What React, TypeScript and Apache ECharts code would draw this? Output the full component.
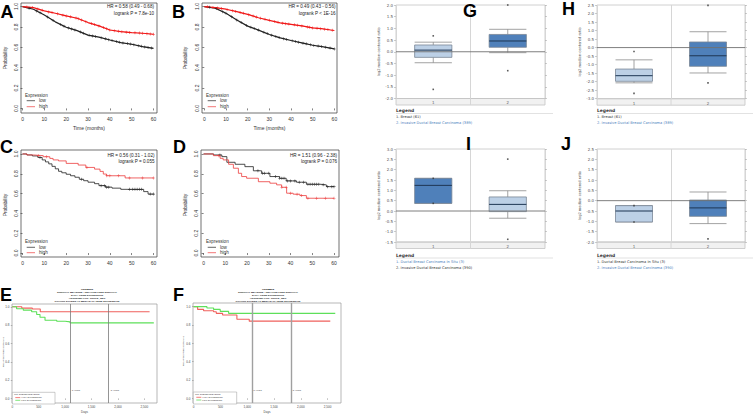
import React, { useEffect, useRef } from 'react';
import * as echarts from 'echarts';

// ================= DATA =================
// Kaplan-Meier panels (A-D)
const KM_X_TICKS = [0, 10, 20, 30, 40, 50, 60];
const KM_Y_TICKS = [0, 0.2, 0.4, 0.6, 0.8, 1.0];
const KM_LEGEND = ['Expression', 'low', 'high'];

const A_TIME = [0, 5, 10, 15, 20, 25, 30, 35, 40, 45, 50, 55, 60];
const A_LOW = [1.0, 0.974, 0.918, 0.85, 0.797, 0.764, 0.72, 0.7, 0.672, 0.646, 0.63, 0.607, 0.59];
const A_HIGH = [1.0, 0.99, 0.957, 0.934, 0.908, 0.885, 0.843, 0.81, 0.77, 0.754, 0.744, 0.738, 0.728];
const A_LOW_CENS = [3, 6.5, 8, 11.5, 14, 17.5, 19, 21, 22.5, 24, 26.5, 28, 30.5, 32, 33.5, 36, 38, 39.5, 41, 43, 44.5, 46, 48, 49.5, 51, 53, 54.5, 56, 57.5, 59];
const A_HIGH_CENS = [2, 4.5, 7, 9, 12, 13.5, 16, 18.5, 20, 22, 24.5, 25.5, 27, 29, 31.5, 33, 35, 37, 38.5, 40, 42, 44, 45.5, 47.5, 49, 51.5, 53.5, 55, 57, 58.5, 60];
const A_STATS = ['HR = 0.58 (0.49 - 0.68)', 'logrank P = 7.8e-10'];

const B_TIME = [0, 5, 10, 15, 20, 25, 30, 35, 40, 45, 50, 55, 60];
const B_LOW = [1.0, 0.985, 0.934, 0.868, 0.808, 0.769, 0.726, 0.693, 0.667, 0.643, 0.62, 0.604, 0.584];
const B_HIGH = [1.0, 0.99, 0.974, 0.95, 0.924, 0.89, 0.865, 0.84, 0.825, 0.81, 0.79, 0.78, 0.765];
const B_LOW_CENS = [2.5, 5.5, 8.5, 10, 12.5, 15, 17, 19.5, 21.5, 23, 25, 27.5, 29, 31, 33, 34.5, 36.5, 38, 40.5, 42, 43.5, 45.5, 47, 49, 50.5, 52.5, 54, 56, 58, 60];
const B_HIGH_CENS = [1.5, 4, 6, 8, 10.5, 13, 14.5, 16.5, 18, 20.5, 22.5, 24, 26, 28, 30, 32.5, 34, 36, 37.5, 39, 41.5, 43, 45, 47.5, 48.5, 50, 52, 53.5, 55.5, 57, 59];
const B_STATS = ['HR = 0.49 (0.43 - 0.56)', 'logrank P < 1E-16'];

const C_LOW_T = [0, 2, 4.5, 7, 9, 10.5, 12, 13.5, 15, 16.5, 18, 20, 22, 24, 26, 28, 30, 33, 35, 38, 41, 45, 55.5, 57.5, 60];
const C_LOW_S = [1.0, 0.99, 0.98, 0.965, 0.94, 0.92, 0.9, 0.875, 0.85, 0.825, 0.81, 0.795, 0.78, 0.765, 0.745, 0.73, 0.715, 0.7, 0.68, 0.665, 0.655, 0.643, 0.62, 0.595, 0.595];
const C_LOW_CENS = [8, 27, 36, 37.5, 38.5, 39.5, 49, 50.5, 51.5, 52.5, 53.5, 54.5, 58.5, 60];
const C_HIGH_T = [0, 2, 5, 9.5, 12.5, 14, 16.5, 20, 25.5, 29, 33, 35.5, 37, 38.5, 47, 60];
const C_HIGH_S = [1.0, 0.99, 0.983, 0.972, 0.955, 0.94, 0.93, 0.905, 0.888, 0.864, 0.847, 0.824, 0.797, 0.78, 0.758, 0.758];
const C_HIGH_CENS = [7.3, 11, 29.5, 38.6, 40, 44, 49, 55, 60];
const C_STATS = ['HR = 0.56 (0.31 - 1.02)', 'logrank P = 0.055'];

const D_LOW_T = [0, 4.6, 8.4, 10.7, 14.5, 19, 22.9, 26.7, 30.5, 35, 38, 42.7, 47.3, 53.4, 56.5, 60];
const D_LOW_S = [1.0, 0.99, 0.973, 0.916, 0.896, 0.872, 0.83, 0.805, 0.772, 0.755, 0.728, 0.715, 0.695, 0.688, 0.67, 0.67];
const D_LOW_CENS = [7.5, 25, 27, 28, 30, 33, 35, 36, 37, 38.5, 40, 42, 44, 46, 48, 49, 50, 51, 52, 53, 55, 57, 59, 60];
const D_HIGH_T = [0, 4.5, 7.6, 9, 11.5, 13.7, 16, 17.5, 19.8, 25.2, 30.5, 33.6, 35.9, 38.2, 41.2, 44.3, 47.3, 60];
const D_HIGH_S = [1.0, 0.983, 0.956, 0.94, 0.896, 0.856, 0.805, 0.772, 0.755, 0.72, 0.705, 0.688, 0.664, 0.604, 0.594, 0.58, 0.553, 0.553];
const D_HIGH_CENS = [7, 36, 38, 40, 43, 45, 48, 52, 56, 60];
const D_STATS = ['HR = 1.51 (0.96 - 2.38)', 'logrank P = 0.076'];

// PROGgene panels (E, F)
const EF_X_TICKS = [0, 500, 1000, 1500, 2000, 2500];
const EF_Y_TICKS = [0, 0.2, 0.4, 0.6, 0.8, 1.0];
const YEAR_MARKS = [1095, 1825];
const YEAR_LABELS = ['3 Years', '5 Years'];
const EF_LEGEND = ['NO. SUBJECTS/EVENTS', 'HIGH EXPRESSION', 'LOW EXPRESSION'];

const E_TITLE = ['GSE25066', 'SURVIVAL MEASURE : RELAPSE FREE SURVIVAL', 'DATA: GENE EXPRESSION', 'ADJUSTED FOR: TRIPLE_NEG', 'COHORT DIVIDED AT MEDIAN OF GENE EXPRESSION'];
const E_HIGH_T = [0, 180, 380, 530, 2600];
const E_HIGH_S = [1.0, 0.985, 0.975, 0.945, 0.945];
const E_LOW_T = [0, 82, 209, 367, 462, 525, 620, 842, 1000, 1095, 2680];
const E_LOW_S = [1.0, 0.978, 0.963, 0.945, 0.916, 0.886, 0.853, 0.842, 0.835, 0.824, 0.824];

const F_TITLE = ['GSE58812', 'SURVIVAL MEASURE : RELAPSE FREE SURVIVAL', 'DATA: GENE EXPRESSION', 'ADJUSTED FOR: TRIPLE_NEG', 'COHORT DIVIDED AT MEDIAN OF GENE EXPRESSION'];
const F_HIGH_T = [0, 75, 187, 373, 423, 541, 808, 1038, 2550];
const F_HIGH_S = [1.0, 0.97, 0.956, 0.945, 0.927, 0.909, 0.862, 0.842, 0.842];
const F_LOW_T = [0, 249, 373, 497, 653, 2643];
const F_LOW_S = [1.0, 0.985, 0.97, 0.949, 0.927, 0.927];

// Oncomine box plots (G-J): [min, Q1, median, Q3, max]
const ONC_CATS = ['1', '2'];
const ONC_YTITLE = 'log2 median-centered ratio';

const G_BOX_1 = [-0.47, -0.24, 0.07, 0.29, 0.41];
const G_BOX_2 = [-0.04, 0.19, 0.46, 0.74, 0.96];
const G_OUT_1 = [0.68, -1.61];
const G_OUT_2 = [2.0, -0.81];
const G_LEGEND = ['1. Breast (61)', '2. Invasive Ductal Breast Carcinoma (389)'];

const H_BOX_1 = [-2.07, -1.98, -1.65, -1.26, -0.72];
const H_BOX_2 = [-1.49, -1.1, -0.48, 0.33, 0.93];
const H_OUT_1 = [-0.23, -2.69];
const H_OUT_2 = [2.48, -2.07];
const H_LEGEND = ['1. Breast (61)', '2. Invasive Ductal Breast Carcinoma (389)'];

const I_BOX_1 = [0.37, 0.37, 1.24, 1.58, 1.58];
const I_BOX_2 = [-0.35, -0.03, 0.32, 0.68, 0.98];
const I_OUT_1 = [1.58, 0.37];
const I_OUT_2 = [2.51, -1.37];
const I_LEGEND = ['1. Ductal Breast Carcinoma In Situ (3)', '2. Invasive Ductal Breast Carcinoma (390)'];

const J_BOX_1 = [-1.03, -1.03, -0.5, -0.24, -0.24];
const J_BOX_2 = [-1.11, -0.76, -0.35, 0.03, 0.42];
const J_OUT_1 = [-0.24, -1.03];
const J_OUT_2 = [2.51, -1.85];
const J_LEGEND = ['1. Ductal Breast Carcinoma In Situ (3)', '2. Invasive Ductal Breast Carcinoma (390)'];

// ================= STYLE / LAYOUT =================
const KM_FONT = '"Liberation Sans", Arial, sans-serif';
const ONC_FONT = '"DejaVu Sans", Verdana, sans-serif';
const KM_BLACK = '#222222';
const KM_RED = '#f01818';
const KM_RED_LIGHT = '#ec3c3c';
const EF_RED = '#f0605c';
const EF_GREEN = '#5ee05a';
const ONC_LIGHT = '#bcd0e6';
const ONC_DARK = '#4f80ba';
const ONC_LINK = '#4a7ebb';
const ONC_TEXT = '#333333';
const PLUS = 'path://M4,0H6V4H10V6H6V10H4V6H0V4H4Z';

function survAt(t: number[], s: number[], x: number, step: boolean) {
  let i = 0;
  while (i < t.length - 1 && t[i + 1] <= x) i++;
  if (step || i >= t.length - 1) return s[i];
  const f = (x - t[i]) / (t[i + 1] - t[i]);
  return s[i] + f * (s[i + 1] - s[i]);
}

function txt(x: number, y: number, text: string, o: any = {}) {
  return {
    type: 'text',
    x,
    y,
    rotation: o.rotation || 0,
    silent: true,
    z: 10,
    style: {
      text,
      fontSize: o.size || 5,
      fontFamily: o.font || KM_FONT,
      fontWeight: o.weight || 'normal',
      fill: o.color || '#222',
      align: o.align || 'left',
      verticalAlign: 'middle',
      textAlign: o.align || 'left',
      textVerticalAlign: 'middle',
    },
  };
}

function ln(x1: number, y1: number, x2: number, y2: number, color: string, w: number) {
  return { type: 'line', silent: true, z: 10, shape: { x1, y1, x2, y2 }, style: { stroke: color, lineWidth: w } };
}

const renderBox = (params: any, api: any) => {
  const ci = api.value(0);
  const vMin = api.value(1);
  const q1 = api.value(2);
  const med = api.value(3);
  const q3 = api.value(4);
  const vMax = api.value(5);
  const dark = api.value(6) === 1;
  const band = api.size([1, 0])[0];
  const half = band * 0.25;
  const pMin = api.coord([ci, vMin]);
  const pQ1 = api.coord([ci, q1]);
  const pMed = api.coord([ci, med]);
  const pQ3 = api.coord([ci, q3]);
  const pMax = api.coord([ci, vMax]);
  const cx = pMed[0];
  const wk = { stroke: '#8c8c8c', lineWidth: 0.8 };
  const children: any[] = [
    { type: 'line', shape: { x1: cx, y1: pMax[1], x2: cx, y2: pQ3[1] }, style: wk, z2: 1 },
    { type: 'line', shape: { x1: cx - half, y1: pMax[1], x2: cx + half, y2: pMax[1] }, style: wk, z2: 1 },
    { type: 'line', shape: { x1: cx, y1: pQ1[1], x2: cx, y2: pMin[1] }, style: wk, z2: 1 },
    { type: 'line', shape: { x1: cx - half, y1: pMin[1], x2: cx + half, y2: pMin[1] }, style: wk, z2: 1 },
    {
      type: 'rect',
      shape: { x: cx - half, y: pQ3[1], width: 2 * half, height: pQ1[1] - pQ3[1] },
      style: { fill: dark ? ONC_DARK : ONC_LIGHT, stroke: '#7a8796', lineWidth: 0.8 },
      z2: 2,
    },
    { type: 'line', shape: { x1: cx - half, y1: pMed[1], x2: cx + half, y2: pMed[1] }, style: { stroke: '#1d3553', lineWidth: 1 }, z2: 3 },
  ];
  if (params.dataIndex === 0) {
    const cs = params.coordSys;
    const y0 = api.coord([ci, 0])[1];
    children.push({ type: 'line', shape: { x1: cs.x, y1: y0, x2: cs.x + cs.width, y2: y0 }, style: { stroke: '#707070', lineWidth: 0.9 }, z2: 5 });
  }
  return { type: 'group', children };
};

function buildOption() {
  const grids: any[] = [];
  const xAxes: any[] = [];
  const yAxes: any[] = [];
  const series: any[] = [];
  const graphics: any[] = [];

  // ---------- KM panels ----------
  const kmPanels = [
    {
      box: [21, 3, 136, 110], xr: [-0.7, 61.6], yr: [-0.045, 1.035], stats: A_STATS, statsPos: [154, 6.8],
      legendPos: [25, 95], legendGap: [5.7, 11.7], xTitle: [89, 128], yTitle: [5, 58], lw: 1.2,
      curves: [
        { t: A_TIME, s: A_LOW, cens: A_LOW_CENS, color: KM_BLACK, step: false },
        { t: A_TIME, s: A_HIGH, cens: A_HIGH_CENS, color: KM_RED, step: false },
      ],
    },
    {
      box: [202, 3, 135, 110], xr: [-1.06, 61.2], yr: [-0.045, 1.035], stats: B_STATS, statsPos: [335.5, 6.8],
      legendPos: [206, 95], legendGap: [5.7, 11.7], xTitle: [269.5, 128], yTitle: [185, 58], lw: 1.2,
      curves: [
        { t: B_TIME, s: B_LOW, cens: B_LOW_CENS, color: KM_BLACK, step: false },
        { t: B_TIME, s: B_HIGH, cens: B_HIGH_CENS, color: KM_RED, step: false },
      ],
    },
    {
      box: [21, 150, 136, 107], xr: [-0.7, 61.6], yr: [-0.04, 1.04], stats: C_STATS, statsPos: [154.5, 155],
      legendPos: [25, 241], legendGap: [6.3, 11.7], xTitle: null, yTitle: [5, 205], lw: 0.8,
      curves: [
        { t: C_LOW_T, s: C_LOW_S, cens: C_LOW_CENS, color: KM_BLACK, step: true },
        { t: C_HIGH_T, s: C_HIGH_S, cens: C_HIGH_CENS, color: KM_RED_LIGHT, step: true },
      ],
    },
    {
      box: [201, 150, 138, 107], xr: [-1.2, 62.3], yr: [-0.04, 1.04], stats: D_STATS, statsPos: [337, 155],
      legendPos: [206, 241], legendGap: [6.3, 11.7], xTitle: null, yTitle: [185, 205], lw: 0.8,
      curves: [
        { t: D_LOW_T, s: D_LOW_S, cens: D_LOW_CENS, color: KM_BLACK, step: true },
        { t: D_HIGH_T, s: D_HIGH_S, cens: D_HIGH_CENS, color: KM_RED_LIGHT, step: true },
      ],
    },
  ];

  kmPanels.forEach((p) => {
    const gi = grids.length;
    grids.push({
      left: p.box[0], top: p.box[1], width: p.box[2], height: p.box[3], show: true,
      borderColor: '#333', borderWidth: 0.7, backgroundColor: 'transparent', outerBoundsMode: 'none',
    });
    xAxes.push({
      type: 'value', gridIndex: gi, min: p.xr[0], max: p.xr[1],
      axisLine: { show: false }, splitLine: { show: false },
      axisTick: { show: true, inside: false, length: 2, customValues: KM_X_TICKS, lineStyle: { color: '#333', width: 0.6 } },
      axisLabel: { customValues: KM_X_TICKS, fontSize: 5, color: '#333', margin: 3, fontFamily: KM_FONT },
    });
    const yi = yAxes.length;
    yAxes.push({
      type: 'value', gridIndex: gi, min: p.yr[0], max: p.yr[1],
      axisLine: { show: false }, splitLine: { show: false },
      axisTick: { show: true, inside: false, length: 2, customValues: KM_Y_TICKS, lineStyle: { color: '#333', width: 0.6 } },
      axisLabel: {
        customValues: KM_Y_TICKS, rotate: 90, fontSize: 5, color: '#333', margin: 3, fontFamily: KM_FONT,
        formatter: (v: number) => v.toFixed(1),
      },
    });
    p.curves.forEach((c) => {
      series.push({
        type: 'line', xAxisIndex: gi, yAxisIndex: yi, silent: true, z: 3,
        data: c.t.map((t, i) => [t, c.s[i]]), step: c.step ? 'end' : false,
        showSymbol: false, symbol: 'none', lineStyle: { color: c.color, width: p.lw },
      });
      series.push({
        type: 'scatter', xAxisIndex: gi, yAxisIndex: yi, silent: true, z: 4,
        data: c.cens.map((x) => [x, survAt(c.t, c.s, x, c.step)]),
        symbol: PLUS, symbolSize: 3, itemStyle: { color: c.color },
      });
    });
    graphics.push(txt(p.statsPos[0], p.statsPos[1], p.stats[0], { size: 4.6, align: 'right' }));
    graphics.push(txt(p.statsPos[0], p.statsPos[1] + 6.3, p.stats[1], { size: 4.6, align: 'right' }));
    const [lx, ly] = p.legendPos;
    graphics.push(txt(lx, ly, KM_LEGEND[0], { size: 4.6, color: '#333' }));
    graphics.push(ln(lx + 1.7, ly + p.legendGap[0], lx + 10, ly + p.legendGap[0], KM_BLACK, 0.7));
    graphics.push(txt(lx + 14, ly + p.legendGap[0], KM_LEGEND[1], { size: 4.6, color: '#333' }));
    graphics.push(ln(lx + 1.7, ly + p.legendGap[1], lx + 10, ly + p.legendGap[1], KM_RED_LIGHT, 0.7));
    graphics.push(txt(lx + 14, ly + p.legendGap[1], KM_LEGEND[2], { size: 4.6, color: '#333' }));
    if (p.xTitle) graphics.push(txt(p.xTitle[0], p.xTitle[1], 'Time (months)', { size: 5, align: 'center', color: '#333' }));
    graphics.push(txt(p.yTitle[0], p.yTitle[1], 'Probability', { size: 4.8, align: 'center', rotation: Math.PI / 2, color: '#333' }));
  });

  // ---------- PROGgene panels ----------
  const efPanels = [
    {
      box: [12, 304, 145, 99], xr: [-5, 2740], yr: [-0.05, 1.03], title: E_TITLE, titleX: 87,
      legendBox: [12.3, 392.3, 42.7, 11.7], yearX: [71.7, 110.7], days: [84.5, 411.5], yTitle: [3.4, 352],
      curves: [
        { t: E_HIGH_T, s: E_HIGH_S, color: EF_RED },
        { t: E_LOW_T, s: E_LOW_S, color: EF_GREEN },
      ],
      vColor: '#7a7a7a', vWidth: 0.8,
    },
    {
      box: [193, 303, 148, 100], xr: [-11, 2750], yr: [-0.051, 1.04], title: F_TITLE, titleX: 268,
      legendBox: [193.3, 392, 43.4, 12], yearX: [253.3, 292.7], days: [267, 411.5], yTitle: [183.4, 351],
      curves: [
        { t: F_HIGH_T, s: F_HIGH_S, color: EF_RED },
        { t: F_LOW_T, s: F_LOW_S, color: EF_GREEN },
      ],
      vColor: '#a0a0a0', vWidth: 1.4,
    },
  ];

  efPanels.forEach((p) => {
    const gi = grids.length;
    grids.push({
      left: p.box[0], top: p.box[1], width: p.box[2], height: p.box[3], show: true,
      borderColor: '#9a9a9a', borderWidth: 0.7, backgroundColor: 'transparent', outerBoundsMode: 'none',
    });
    xAxes.push({
      type: 'value', gridIndex: gi, min: p.xr[0], max: p.xr[1],
      axisLine: { show: false }, splitLine: { show: false },
      axisTick: { show: true, length: 1.5, customValues: EF_X_TICKS, lineStyle: { color: '#777', width: 0.5 } },
      axisLabel: { customValues: EF_X_TICKS, fontSize: 3, color: '#444', margin: 2.5, fontFamily: KM_FONT },
    });
    const yi = yAxes.length;
    yAxes.push({
      type: 'value', gridIndex: gi, min: p.yr[0], max: p.yr[1],
      axisLine: { show: false }, splitLine: { show: false },
      axisTick: { show: true, length: 1.5, customValues: EF_Y_TICKS, lineStyle: { color: '#777', width: 0.5 } },
      axisLabel: {
        customValues: EF_Y_TICKS, fontSize: 3, color: '#444', margin: 2.5, fontFamily: KM_FONT,
        formatter: (v: number) => v.toFixed(1),
      },
    });
    p.curves.forEach((c, k) => {
      const s: any = {
        type: 'line', xAxisIndex: gi, yAxisIndex: yi, silent: true, z: 3,
        data: c.t.map((t, i) => [t, c.s[i]]), step: 'end',
        showSymbol: false, symbol: 'none', lineStyle: { color: c.color, width: 1.1 },
      };
      if (k === 0) {
        s.markLine = {
          silent: true, symbol: ['none', 'none'], label: { show: false },
          lineStyle: { color: p.vColor, width: p.vWidth, type: 'solid' },
          data: YEAR_MARKS.map((v) => ({ xAxis: v })),
        };
      }
      series.push(s);
    });
    p.title.forEach((line, i) => {
      graphics.push(txt(p.titleX, 289.8 + i * 2.85, line, { size: 2.5, align: 'center', weight: 'bold', color: '#111' }));
    });
    const [bx, by, bw, bh] = p.legendBox;
    graphics.push({ type: 'rect', silent: true, z: 10, shape: { x: bx, y: by, width: bw, height: bh }, style: { fill: '#fff', stroke: '#999', lineWidth: 0.5 } });
    graphics.push(txt(bx + 2, by + 2.2, EF_LEGEND[0], { size: 2.2, color: '#444' }));
    graphics.push(ln(bx + 3, by + 5.3, bx + 8, by + 5.3, EF_RED, 0.8));
    graphics.push(txt(bx + 9, by + 5.3, EF_LEGEND[1], { size: 2.2, color: '#444' }));
    graphics.push(ln(bx + 3, by + 8, bx + 8, by + 8, EF_GREEN, 0.8));
    graphics.push(txt(bx + 9, by + 8, EF_LEGEND[2], { size: 2.2, color: '#444' }));
    YEAR_LABELS.forEach((lab, i) => graphics.push(txt(p.yearX[i], 390, lab, { size: 2.5, color: '#444' })));
    graphics.push(txt(p.days[0], p.days[1], 'Days', { size: 3, align: 'center', color: '#444' }));
    graphics.push(txt(p.yTitle[0], p.yTitle[1], 'RELAPSE FREE SURVIVAL', { size: 2.4, align: 'center', rotation: Math.PI / 2, color: '#444' }));
  });

  // ---------- Oncomine panels ----------
  const oncPanels = [
    { box: [396, 5, 149, 93.5], yr: [-2, 2], boxes: [G_BOX_1, G_BOX_2], dark: [0, 1], outs: [G_OUT_1, G_OUT_2], legend: G_LEGEND, legendColors: [ONC_TEXT, ONC_LINK], legendY: 110.5 },
    { box: [597, 5, 148, 93.7], yr: [-3, 2.5], boxes: [H_BOX_1, H_BOX_2], dark: [0, 1], outs: [H_OUT_1, H_OUT_2], legend: H_LEGEND, legendColors: [ONC_TEXT, ONC_LINK], legendY: 110.5 },
    { box: [396, 149, 149, 93], yr: [-1.5, 3], boxes: [I_BOX_1, I_BOX_2], dark: [1, 0], outs: [I_OUT_1, I_OUT_2], legend: I_LEGEND, legendColors: [ONC_LINK, ONC_TEXT], legendY: 255 },
    { box: [597, 149, 148, 93], yr: [-2, 2.5], boxes: [J_BOX_1, J_BOX_2], dark: [0, 1], outs: [J_OUT_1, J_OUT_2], legend: J_LEGEND, legendColors: [ONC_TEXT, ONC_LINK], legendY: 255 },
  ];

  oncPanels.forEach((p) => {
    const gi = grids.length;
    const [L, T, W, H] = p.box;
    grids.push({
      left: L, top: T, width: W, height: H, show: true,
      borderColor: '#c4c4c4', borderWidth: 0.8, backgroundColor: 'transparent', outerBoundsMode: 'none',
    });
    xAxes.push({
      type: 'category', gridIndex: gi, data: ONC_CATS, boundaryGap: true,
      axisLine: { show: false }, axisTick: { show: false },
      splitLine: { show: true, lineStyle: { color: '#d6d6d6', width: 1 } },
      axisLabel: { fontSize: 4, color: '#666', margin: 2.3, fontFamily: ONC_FONT },
    });
    const yl = yAxes.length;
    yAxes.push({
      type: 'value', gridIndex: gi, min: p.yr[0], max: p.yr[1], interval: 0.5, position: 'left',
      axisLine: { show: false }, splitLine: { show: false },
      axisTick: { show: true, length: 2, lineStyle: { color: '#aaa', width: 0.6 } },
      axisLabel: { fontSize: 4, color: '#555', margin: 3, fontFamily: ONC_FONT, formatter: (v: number) => v.toFixed(1) },
      name: ONC_YTITLE, nameLocation: 'middle', nameGap: 14, nameRotate: 90,
      nameTextStyle: { fontSize: 3.6, color: '#555', fontFamily: ONC_FONT },
    });
    yAxes.push({
      type: 'value', gridIndex: gi, min: p.yr[0], max: p.yr[1], interval: 0.5, position: 'right',
      axisLine: { show: false }, splitLine: { show: false }, axisLabel: { show: false },
      axisTick: { show: true, length: 2, lineStyle: { color: '#aaa', width: 0.6 } },
    });
    series.push({
      type: 'custom', xAxisIndex: gi, yAxisIndex: yl, silent: true, z: 3,
      renderItem: renderBox,
      encode: { x: 0, y: [1, 2, 3, 4, 5] },
      data: p.boxes.map((b, i) => [i, b[0], b[1], b[2], b[3], b[4], p.dark[i]]),
    });
    const pts: number[][] = [];
    p.outs.forEach((arr, i) => arr.forEach((v) => pts.push([i, v])));
    series.push({
      type: 'scatter', xAxisIndex: gi, yAxisIndex: yl, silent: true, z: 5,
      data: pts, symbol: 'rect', symbolSize: 1.6, itemStyle: { color: '#333' },
    });
    // category strip below plot
    graphics.push({ type: 'rect', silent: true, z: -1, shape: { x: L, y: T + H, width: W, height: 6.5 }, style: { fill: '#f1f1f1', stroke: '#c4c4c4', lineWidth: 0.8 } });
    graphics.push(ln(L + W / 2, T + H, L + W / 2, T + H + 6.5, '#d6d6d6', 1));
    // legend
    graphics.push(txt(L, p.legendY, 'Legend', { size: 4.4, weight: 'bold', color: '#333', font: ONC_FONT }));
    graphics.push(ln(L, p.legendY + 3, L + W + 8, p.legendY + 3, '#cfcfcf', 0.6));
    graphics.push(txt(L, p.legendY + 6.8, p.legend[0], { size: 3.6, color: p.legendColors[0], font: ONC_FONT }));
    graphics.push(txt(L, p.legendY + 12.8, p.legend[1], { size: 3.6, color: p.legendColors[1], font: ONC_FONT }));
  });

  // ---------- Panel letters ----------
  const letters: [string, number, number][] = [
    ['A', 0.5, 11.5], ['B', 172, 11.5], ['C', 0, 146.5], ['D', 173, 146.5],
    ['E', 0, 295], ['F', 173, 295], ['G', 463, 11], ['H', 562, 9], ['I', 466, 143.5], ['J', 561, 143.5],
  ];
  letters.forEach(([l, x, y]) => graphics.push(txt(x, y, l, { size: 18, weight: 'bold', color: '#000', font: KM_FONT })));

  return {
    animation: false,
    backgroundColor: '#ffffff',
    grid: grids,
    xAxis: xAxes,
    yAxis: yAxes,
    series,
    graphic: { elements: graphics },
  };
}

export default function App() {
  const ref = useRef<HTMLDivElement>(null);
  useEffect(() => {
    if (!ref.current) return;
    const chart = echarts.init(ref.current, undefined, { renderer: 'svg' });
    chart.setOption(buildOption() as any);
    return () => chart.dispose();
  }, []);
  return (
    <div
      ref={ref}
      style={{ position: 'absolute', left: 0, top: 0, width: 756, height: 414, background: '#fff' }}
    />
  );
}
